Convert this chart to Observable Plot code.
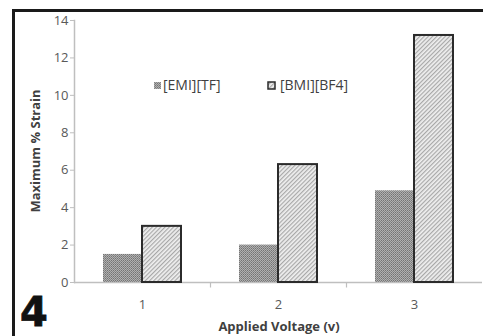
<!DOCTYPE html>
<html><head><meta charset="utf-8">
<script src="https://cdn.jsdelivr.net/npm/d3@7"></script>
<script src="https://cdn.jsdelivr.net/npm/@observablehq/plot@0.6"></script>
<style>
body{margin:0;background:#fff;}
#wrap{position:relative;width:483px;height:336px;overflow:hidden;font-family:"Open Sans",sans-serif;}
#wrap svg{position:absolute;left:0;top:0;}
.bar{position:absolute;background:#1a1a1a;}
#num{position:absolute;left:20px;top:296px;font:bold 40px "DejaVu Sans",sans-serif;color:#111;line-height:0.8;-webkit-text-stroke:0.8px #111;}
.title{position:absolute;font-weight:bold;font-size:13px;color:#404040;white-space:nowrap;}
#legend{position:absolute;left:0;top:0;font-size:14px;color:#404040;}
.sw{position:absolute;}
.lt{position:absolute;white-space:nowrap;line-height:1;}
</style></head>
<body>
<div id="wrap">
  <div id="chart"></div>
  <div class="bar" style="left:12px;top:9px;width:471px;height:3px"></div>
  <div class="bar" style="left:12px;top:9px;width:3px;height:327px"></div>
  <div id="num">4</div>
  <div class="title" id="ytitle" style="left:35px;top:151px;transform:translate(-50%,-50%) rotate(-90deg)"></div>
  <div class="title" id="xtitle" style="left:279px;top:326px;transform:translate(-50%,-50%)"></div>
  <div id="legend"></div>
</div>
<script>
const voltages = [1, 2, 3];
const series = ["[EMI][TF]", "[BMI][BF4]"];
const emi = [1.5, 2.0, 4.9];
const bmi = [3.0, 6.3, 13.2];
const yTicks = [0, 2, 4, 6, 8, 10, 12, 14];
const xTitle = "Applied Voltage (v)";
const yTitle = "Maximum % Strain";
const separators = [2, 3];

const data = voltages.flatMap((v, i) => [
  {v, s: series[0], val: emi[i]},
  {v, s: series[1], val: bmi[i]}
]);

const tickSym = {draw(ctx, size) { ctx.moveTo(0, 0); ctx.lineTo(0, 5); }};

const chart = Plot.plot({
  width: 483, height: 336,
  marginTop: 20, marginBottom: 54, marginLeft: 73, marginRight: 0,
  style: {fontFamily: "Open Sans, sans-serif", fontSize: "13px", background: "transparent"},
  fx: {domain: voltages, paddingInner: 0, paddingOuter: 0, label: null},
  x: {domain: series, paddingInner: 0, paddingOuter: 0.734, axis: null},
  y: {domain: [0, 14], label: null},
  marks: [
    Plot.axisY({ticks: yTicks, tickSize: 4, tickPadding: 2, stroke: "#bfbfbf", fill: "#595959", label: null}),
    Plot.axisFx({anchor: "bottom", tickSize: 0, tickPadding: 17, fill: "#595959", label: null}),
    Plot.frame({anchor: "left", facetAnchor: "left", stroke: "#bfbfbf", strokeWidth: 1.5}),
    Plot.dot(separators, {fx: d => d, frameAnchor: "bottom-left", symbol: tickSym, r: 3, fill: "none", stroke: "#bfbfbf", strokeWidth: 1.2}),
    Plot.ruleY([0], {stroke: "#bfbfbf", strokeWidth: 1.5}),
    Plot.barY(data.filter(d => d.s === series[0]), {fx: "v", x: "s", y: "val", fill: "url(#pEmi)"}),
    Plot.barY(data.filter(d => d.s === series[1]), {fx: "v", x: "s", y: "val", fill: "url(#pBmi)", stroke: "#2b2b2b", strokeWidth: 2})
  ]
});

const ns = "http://www.w3.org/2000/svg";
const defs = document.createElementNS(ns, "defs");
defs.innerHTML = `
<pattern id="pEmi" width="2" height="2" patternUnits="userSpaceOnUse">
  <rect width="2" height="2" fill="#b0b0b0"/>
  <rect x="0" y="0" width="1" height="1" fill="#747474"/>
  <rect x="1" y="1" width="1" height="1" fill="#858585"/>
</pattern>
<pattern id="pBmi" width="3" height="3" patternUnits="userSpaceOnUse" patternTransform="rotate(45)">
  <rect width="3" height="3" fill="#f0f0f0"/>
  <rect width="1.2" height="3" fill="#a8a8a8"/>
</pattern>`;
chart.insertBefore(defs, chart.firstChild);
document.getElementById("chart").appendChild(chart);

document.getElementById("ytitle").textContent = yTitle;
document.getElementById("xtitle").textContent = xTitle;

const lg = document.getElementById("legend");
const mkSw = (x, y, w, fill, stroke) => {
  const s = document.createElementNS(ns, "svg");
  s.setAttribute("width", w + 2); s.setAttribute("height", w + 2);
  s.setAttribute("class", "sw");
  s.style.left = (x - 1) + "px"; s.style.top = (y - 1) + "px";
  s.innerHTML = `<rect x="1" y="1" width="${w}" height="${w}" fill="${fill}" ${stroke ? `stroke="${stroke}" stroke-width="1.5"` : ""}/>`;
  lg.appendChild(s);
};
mkSw(154, 82, 7, "url(#pEmi)", null);
mkSw(268, 82, 7, "url(#pBmi)", "#2b2b2b");
const mkT = (x, t) => {
  const d = document.createElement("div");
  d.className = "lt"; d.textContent = t;
  d.style.left = x + "px"; d.style.top = "78px";
  lg.appendChild(d);
};
mkT(163, series[0]);
mkT(280, series[1]);
</script>
</body></html>
